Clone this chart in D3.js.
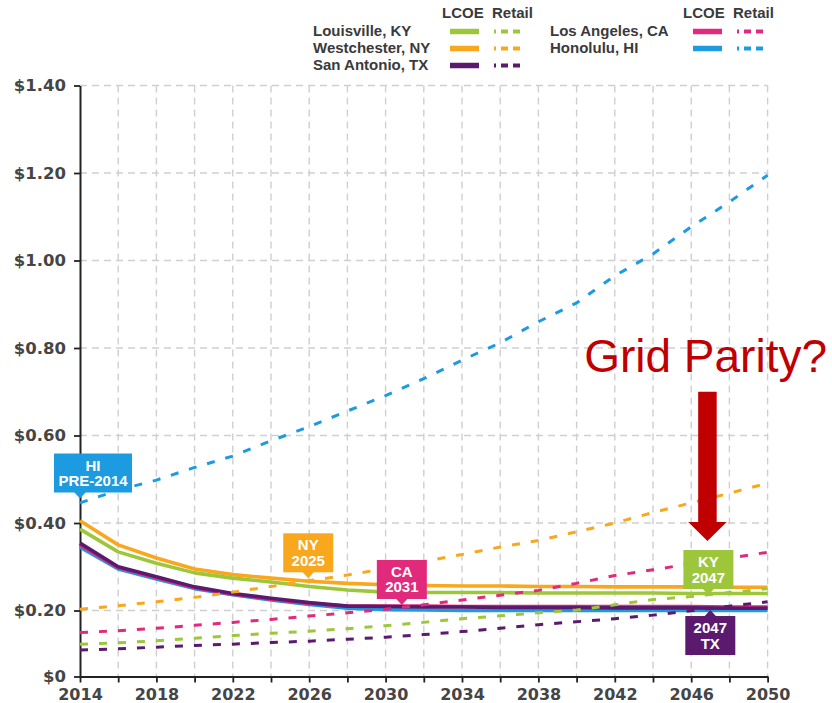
<!DOCTYPE html>
<html>
<head>
<meta charset="utf-8">
<script src="https://cdn.jsdelivr.net/npm/d3@7"></script>
<style>
  html, body { margin: 0; padding: 0; background: #fff; }
  svg { display: block; }
</style>
</head>
<body>
<svg id="chart" width="832" height="703"></svg>
<script>
// ---------------- DATA ----------------
const years = [2014,2016,2018,2020,2022,2024,2026,2028,2030,2032,2034,2036,2038,2040,2042,2044,2046,2048,2050];

const lcoeKY = [0.386,0.334,0.308,0.286,0.274,0.265,0.255,0.247,0.242,0.241,0.241,0.241,0.240,0.240,0.240,0.240,0.239,0.239,0.239];
const lcoeNY = [0.405,0.350,0.320,0.295,0.282,0.274,0.267,0.262,0.259,0.257,0.256,0.256,0.255,0.255,0.254,0.254,0.254,0.253,0.253];
const lcoeTX = [0.354,0.300,0.277,0.254,0.239,0.228,0.218,0.210,0.209,0.208,0.208,0.207,0.207,0.207,0.206,0.206,0.206,0.205,0.205];
const lcoeCA = [0.350,0.298,0.275,0.252,0.237,0.226,0.216,0.210,0.210,0.210,0.209,0.209,0.209,0.209,0.209,0.209,0.209,0.208,0.208];
const lcoeHI = [0.345,0.295,0.272,0.250,0.236,0.224,0.214,0.205,0.202,0.201,0.200,0.200,0.200,0.200,0.200,0.200,0.200,0.200,0.200];

const retailKY = [0.098,0.102,0.108,0.116,0.124,0.131,0.137,0.145,0.154,0.164,0.175,0.184,0.193,0.201,0.213,0.225,0.232,0.241,0.250];
const retailNY = [0.203,0.211,0.220,0.230,0.242,0.255,0.268,0.281,0.296,0.312,0.328,0.345,0.360,0.380,0.400,0.424,0.446,0.468,0.491];
const retailTX = [0.080,0.084,0.089,0.094,0.098,0.103,0.107,0.113,0.119,0.127,0.136,0.146,0.157,0.166,0.175,0.186,0.199,0.210,0.220];
const retailCA = [0.133,0.139,0.146,0.155,0.164,0.173,0.183,0.193,0.203,0.213,0.224,0.235,0.246,0.262,0.280,0.293,0.307,0.320,0.333];
const retailHI = [0.446,0.475,0.498,0.527,0.553,0.588,0.620,0.656,0.691,0.730,0.772,0.812,0.860,0.903,0.965,1.015,1.077,1.134,1.195];

const seriesNames = ["Louisville, KY","Westchester, NY","San Antonio, TX","Los Angeles, CA","Honolulu, HI"];
const seriesCodes = ["KY","NY","TX","CA","HI"];
const seriesColors = ["#9dc63b","#f9a71c","#5b1a6e","#e22a7c","#1d9be0"];

const yTicks = [0,0.2,0.4,0.6,0.8,1.0,1.2,1.4];
const xTicks = [2014,2016,2018,2020,2022,2024,2026,2028,2030,2032,2034,2036,2038,2040,2042,2044,2046,2048,2050];

// callouts (text, anchor year, anchor value)
const calloutText  = [["HI","PRE-2014"],["NY","2025"],["CA","2031"],["KY","2047"],["2047","TX"]];
const calloutCode  = ["HI","NY","CA","KY","TX"];
const calloutYear  = [2014, 2025.95, 2030.85, 2046.9, 2047.0];
const calloutValue = [0.456, 0.2736, 0.2126, 0.2354, 0.2011];
const calloutDir   = ["down","down","down","down","up"];

const annotationText = "Grid Parity?";
const arrowYear = 2046.85;
const arrowFrom = 0.70;
const arrowTo = 0.359;

// ---------------- CHART ----------------
const svg = d3.select("#chart");
const colorOf = {};
seriesCodes.forEach((c,i)=> colorOf[c] = seriesColors[i]);

const x = d3.scaleLinear().domain([2014, 2050]).range([80, 767.6]);
const y = d3.scaleLinear().domain([0, 0.2, 1.4]).range([676.5, 610.5, 85.5]);

// grid
const grid = svg.append("g");
grid.selectAll("line.h").data(yTicks.filter(d=>d>0)).join("line")
  .attr("x1", x(2014)).attr("x2", x(2050))
  .attr("y1", d=>y(d)).attr("y2", d=>y(d))
  .attr("stroke", "#cfcfcf").attr("stroke-width", 1.4).attr("stroke-dasharray", "7,5");
grid.selectAll("line.v").data(xTicks.filter(d=>d>2014)).join("line")
  .attr("x1", d=>x(d)).attr("x2", d=>x(d))
  .attr("y1", y(1.4)).attr("y2", y(0))
  .attr("stroke", "#cfcfcf").attr("stroke-width", 1.4).attr("stroke-dasharray", "7,5");

// axes
const yAxis = d3.axisLeft(y).tickValues(yTicks)
  .tickFormat(d => d === 0 ? "$0" : "$" + d.toFixed(2))
  .tickSize(6).tickSizeOuter(0).tickPadding(8);
const gy = svg.append("g").attr("transform", `translate(${x(2014)},0)`).call(yAxis);
const xAxis = d3.axisBottom(x).tickValues(xTicks)
  .tickFormat(d => (d - 2014) % 4 === 0 ? String(d) : "")
  .tickSize(6).tickSizeOuter(0).tickPadding(6);
const gx = svg.append("g").attr("transform", `translate(0,${y(0)})`).call(xAxis);

[gx, gy].forEach(g => {
  g.select(".domain").attr("stroke", "#222").attr("stroke-width", 2);
  g.selectAll(".tick line").attr("stroke", "#222").attr("stroke-width", 1.8);
  g.selectAll(".tick text").attr("fill", "#454545")
    .attr("font-family", "DejaVu Sans").attr("font-weight", "bold");
});
gy.selectAll(".tick text").attr("font-size", 16.5);
gx.selectAll(".tick text").attr("font-size", 16);

// lines
const line = d3.line().x((d,i)=>x(years[i])).y(d=>y(d));
const lcoe = {KY: lcoeKY, NY: lcoeNY, TX: lcoeTX, CA: lcoeCA, HI: lcoeHI};
const retail = {KY: retailKY, NY: retailNY, TX: retailTX, CA: retailCA, HI: retailHI};

const solidOrder = ["NY","KY","HI","CA","TX"];
solidOrder.forEach(c => {
  svg.append("path").datum(lcoe[c]).attr("d", line)
    .attr("fill","none").attr("stroke", colorOf[c]).attr("stroke-width", 3.6)
    .attr("stroke-linejoin","round");
});
const dashOrder = ["HI","NY","KY","TX","CA"];
dashOrder.forEach(c => {
  svg.append("path").datum(retail[c]).attr("d", line)
    .attr("fill","none").attr("stroke", colorOf[c]).attr("stroke-width", 3)
    .attr("stroke-dasharray","8,11");
});

// callouts
calloutCode.forEach((c,i) => {
  const tx = x(calloutYear[i]), ty = y(calloutValue[i]);
  const isHI = c === "HI";
  const w = isHI ? 78 : 50, h = 39, ph = 6, pw = 6;
  const cx = isHI ? tx + 13 : tx;
  const g = svg.append("g");
  let boxTop;
  if (calloutDir[i] === "down") {
    boxTop = ty - ph - h;
    g.append("path").attr("d", `M${tx-pw},${ty-ph-0.5} L${tx},${ty} L${tx+pw},${ty-ph-0.5} Z`).attr("fill", colorOf[c]);
  } else {
    boxTop = ty + ph;
    g.append("path").attr("d", `M${tx-pw},${ty+ph+0.5} L${tx},${ty} L${tx+pw},${ty+ph+0.5} Z`).attr("fill", colorOf[c]);
  }
  g.append("rect").attr("x", cx - w/2).attr("y", boxTop).attr("width", w).attr("height", h)
    .attr("fill", colorOf[c]);
  calloutText[i].forEach((t,k) => {
    g.append("text").attr("x", cx).attr("y", boxTop + 17 + k*15.5)
      .attr("text-anchor","middle").attr("fill","#fff")
      .attr("font-family","Liberation Sans, Arial, sans-serif").attr("font-weight","bold")
      .attr("font-size", 15).text(t);
  });
});

// Grid parity annotation
const ax = x(arrowYear), ay1 = y(arrowFrom), ay2 = y(arrowTo);
const shaftW = 18.5, headW = 38.5, headL = 19;
svg.append("path")
  .attr("d", `M${ax-shaftW/2},${ay1} L${ax+shaftW/2},${ay1} L${ax+shaftW/2},${ay2-headL} L${ax+headW/2},${ay2-headL} L${ax},${ay2} L${ax-headW/2},${ay2-headL} L${ax-shaftW/2},${ay2-headL} Z`)
  .attr("fill", "#c00000");
svg.append("text").attr("x", 827).attr("y", 371.5).attr("text-anchor","end")
  .attr("font-family","Liberation Sans, Arial, sans-serif").attr("font-size", 46)
  .attr("fill","#c00000").text(annotationText);

// legend
const lg = svg.append("g").attr("font-family","Liberation Sans, Arial, sans-serif")
  .attr("font-weight","bold").attr("font-size", 15).attr("fill","#3a3a3a");
const cols = [
  {textX: 313, solidX: 450, dashX: 494, lcoeX: 442, retailX: 492},
  {textX: 550, solidX: 693, dashX: 737, lcoeX: 683, retailX: 733}
];
cols.forEach(col => {
  lg.append("text").attr("x", col.lcoeX).attr("y", 17.5).text("LCOE");
  lg.append("text").attr("x", col.retailX).attr("y", 17.5).text("Retail");
});
seriesNames.forEach((name,i) => {
  const col = i < 3 ? cols[0] : cols[1];
  const row = i < 3 ? i : i - 3;
  const by = 36 + row * 17;
  const sy = by - 4.5;
  lg.append("text").attr("x", col.textX).attr("y", by).text(name);
  lg.append("line").attr("x1", col.solidX).attr("x2", col.solidX + 29)
    .attr("y1", sy).attr("y2", sy).attr("stroke", seriesColors[i]).attr("stroke-width", 5.5);
  lg.append("line").attr("x1", col.dashX).attr("x2", col.dashX + 28)
    .attr("y1", sy).attr("y2", sy).attr("stroke", seriesColors[i]).attr("stroke-width", 4)
    .attr("stroke-dasharray","7,5").attr("stroke-dashoffset", 5);
});
</script>
</body>
</html>
